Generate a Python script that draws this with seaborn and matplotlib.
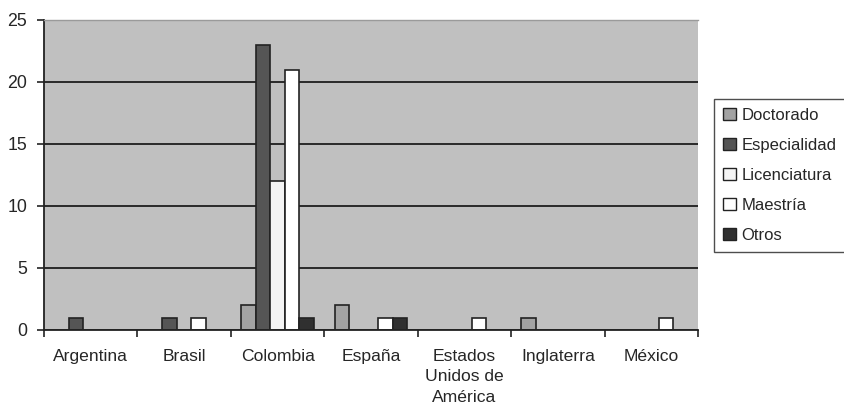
import matplotlib
matplotlib.use("Agg")
import matplotlib.pyplot as plt
import seaborn as sns
import pandas as pd
import numpy as np
from matplotlib.patches import Patch

countries = ["Argentina", "Brasil", "Colombia", "España",
             "Estados\nUnidos de\nAmérica", "Inglaterra", "México"]
series = ["Doctorado", "Especialidad", "Licenciatura", "Maestría", "Otros"]
doctorado = [0, 0, 2, 2, 0, 1, 0]
especialidad = [1, 1, 23, 0, 0, 0, 0]
licenciatura = [0, 0, 12, 0, 0, 0, 0]
maestria = [0, 1, 21, 1, 1, 0, 1]
otros = [0, 0, 1, 1, 0, 0, 0]
colors = ["#a3a3a3", "#555555", "#f4f4f4", "#ffffff", "#303030"]

values = [doctorado, especialidad, licenciatura, maestria, otros]
rows = []
for s, vals in zip(series, values):
    for c, v in zip(countries, vals):
        if v > 0:
            rows.append({"Pais": c, "Nivel": s, "Valor": v})
df = pd.DataFrame(rows)

sns.set_style("white")
plt.rcParams["font.family"] = ["Liberation Sans", "DejaVu Sans"]

fig = plt.figure(figsize=(8.44, 4.13), dpi=100)
ax = fig.add_axes([44 / 844, 1 - 330 / 413, (698 - 44) / 844, (330 - 20) / 413])
ax.set_facecolor("#c0c0c0")

sns.barplot(data=df, x="Pais", y="Valor", hue="Nivel", order=countries,
            hue_order=series, palette=colors, width=0.78, ax=ax,
            edgecolor="#222222", linewidth=1.2, legend=False, errorbar=None,
            saturation=1)

ax.set_ylim(0, 25)
ax.set_xlim(-0.5, len(countries) - 0.5)
ax.set_yticks([0, 5, 10, 15, 20, 25])
ax.yaxis.grid(True, color="#1e1e1e", linewidth=1.3)
ax.set_axisbelow(True)
ax.set_xlabel("")
ax.set_ylabel("")

ax.set_xticks(np.arange(len(countries)))
ax.set_xticklabels(countries, fontsize=12.6, linespacing=1.42, va="top")
ax.set_xticks(np.arange(len(countries) + 1) - 0.5, minor=True)
ax.tick_params(axis="x", which="major", length=0, pad=14)
ax.tick_params(axis="x", which="minor", length=5, width=1.2, color="#222222", direction="out", bottom=True)
ax.tick_params(axis="y", which="major", length=5, width=1.2, color="#222222", direction="out",
               left=True, labelsize=12.8, pad=7)

for side in ["left", "bottom"]:
    ax.spines[side].set_color("#222222")
    ax.spines[side].set_linewidth(1.3)
ax.spines["top"].set_color("#9a9a9a")
ax.spines["top"].set_linewidth(1.0)
ax.spines["right"].set_visible(False)

handles = [Patch(facecolor=c, edgecolor="#222222", linewidth=1.0) for c in colors]
leg = ax.legend(handles, series, loc="upper left", bbox_to_anchor=(714 / 844, 1 - 99 / 413),
                bbox_transform=fig.transFigure, borderaxespad=0, frameon=True, fancybox=False,
                fontsize=12, handlelength=0.75, handleheight=0.75, handletextpad=0.35,
                labelspacing=0.9, borderpad=0.55)
leg.get_frame().set_edgecolor("#222222")
leg.get_frame().set_linewidth(1.0)
leg.get_frame().set_facecolor("white")

fig.savefig("out.png", dpi=100)
